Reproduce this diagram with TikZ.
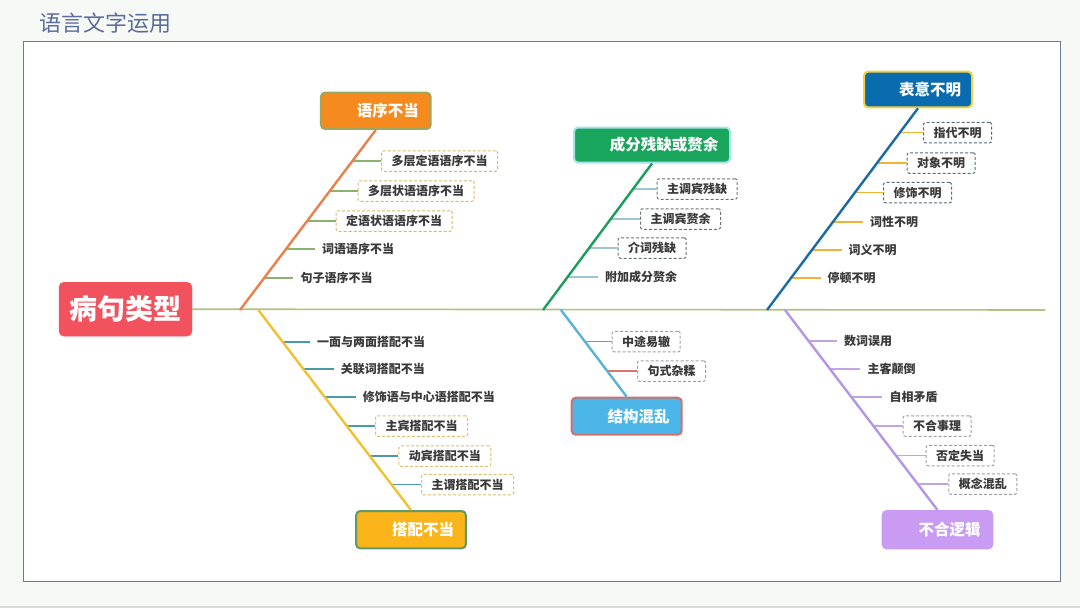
\documentclass[tikz,border=0pt]{standalone}
\usepackage{fontspec}
\setmainfont{Noto Sans CJK SC}
\usetikzlibrary{calc}
\definecolor{bgc}{HTML}{F6F9F5}
\definecolor{framec}{HTML}{6C7A90}
\definecolor{titlec}{HTML}{5B6B9B}
\definecolor{itemtext}{HTML}{3A3A3A}
\definecolor{spinec}{HTML}{B2C084}
\definecolor{rootc}{HTML}{F2525E}
% branch 1
\definecolor{b1c}{HTML}{E8814C}
\definecolor{c1fill}{HTML}{F58A1F}
\definecolor{c1bord}{HTML}{9AA860}
\definecolor{t1c}{HTML}{8CB270}
\definecolor{d1c}{HTML}{D9B86A}
% branch 2
\definecolor{b2c}{HTML}{F0C232}
\definecolor{c2fill}{HTML}{FBB419}
\definecolor{c2bord}{HTML}{5E9A6A}
\definecolor{t2c}{HTML}{4A9AAA}
\definecolor{d2c}{HTML}{DDC070}
% branch 3
\definecolor{b3c}{HTML}{1A9E5A}
\definecolor{c3fill}{HTML}{1AA55C}
\definecolor{c3bord}{HTML}{A6E2EA}
\definecolor{t3c}{HTML}{A0C4D2}
\definecolor{d3c}{HTML}{6A7272}
% branch 4
\definecolor{b4c}{HTML}{5AB2D4}
\definecolor{c4fill}{HTML}{4DB6E9}
\definecolor{c4bord}{HTML}{D2706E}
\definecolor{t4c}{HTML}{E07272}
\definecolor{d4c}{HTML}{9AA0A8}
% branch 5
\definecolor{b5c}{HTML}{1A6AA8}
\definecolor{c5fill}{HTML}{0B6BAF}
\definecolor{c5bord}{HTML}{F4D03F}
\definecolor{t5c}{HTML}{F2B233}
\definecolor{d5c}{HTML}{5A6A7A}
% branch 6
\definecolor{b6c}{HTML}{B496E4}
\definecolor{c6fill}{HTML}{C99BF2}
\definecolor{t6c}{HTML}{C2A4E2}
\definecolor{d6c}{HTML}{A0A0A0}
\tikzset{
  catbox/.style={draw, line width=2pt, rounded corners=4pt, minimum height=36pt,
    inner xsep=0pt, text=white, font=\fontsize{15.5}{17}\selectfont\bfseries},
  dbox/.style={draw, dash pattern=on 3pt off 2pt, line width=1pt, fill=white,
    rounded corners=2pt, minimum height=20.5pt, inner xsep=10pt, inner ysep=2pt,
    anchor=west, font=\fontsize{12}{13}\selectfont\bfseries, text=itemtext},
  ptext/.style={inner xsep=7pt, inner ysep=2pt, anchor=west,
    font=\fontsize{12}{13}\selectfont\bfseries, text=itemtext},
  branch/.style={line width=2.4pt},
  tickline/.style={line width=1.3pt},
}
\begin{document}
\begin{tikzpicture}[x=1pt,y=-1pt]
\useasboundingbox (0,0) rectangle (1080,608);
\fill[bgc] (0,0) rectangle (1080,608);
\draw[line width=2pt, draw={rgb,255:red,216;green,218;blue,216}] (0,607) -- (1080,607);
\draw[framec, line width=1pt, fill=white] (23,41) rectangle (1060,581);
\node[anchor=west, text=titlec, font=\fontsize{22}{24}\selectfont, inner sep=0pt] (title) at (39,23) {语言文字运用};

% root and spine
\node[fill=rootc, draw=rootc, rounded corners=5pt, minimum width=133pt, minimum height=54pt,
  text=white, font=\fontsize{28}{30}\selectfont\bfseries, inner sep=0pt] (root) at (125.5,309.2) {病句类型};
\coordinate (spineend) at (1045,310);
\draw[spinec, line width=1.6pt] (root.east) -- (spineend);

% category nodes
\node[catbox, fill=c1fill, draw=c1bord, minimum width=109.7pt, minimum height=36.3pt] (c1) at (375.8,110.8) {\hspace*{24pt}语序不当};
\node[catbox, fill=c2fill, draw=c2bord, minimum width=109.7pt, minimum height=37.3pt] (c2) at (411,529.7) {\hspace*{24pt}搭配不当};
\node[catbox, fill=c3fill, draw=c3bord, minimum width=156pt, minimum height=35pt] (c3) at (652,145) {\hspace*{24pt}成分残缺或赘余};
\node[catbox, fill=c4fill, draw=c4bord, minimum width=110pt, minimum height=37pt] (c4) at (626.7,416.2) {\hspace*{24pt}结构混乱};
\node[catbox, fill=c5fill, draw=c5bord, minimum width=108pt, minimum height=35.6pt] (c5) at (918,89.5) {\hspace*{24pt}表意不明};
\node[catbox, fill=c6fill, draw=c6fill, minimum width=109.6pt, minimum height=37.3pt] (c6) at (937.5,529.7) {\hspace*{24pt}不合逻辑};

% branch start points on the spine
\coordinate (s1) at (240,310);
\coordinate (s2) at (258.3,310);
\coordinate (s3) at (543,310);
\coordinate (s4) at (561,310);
\coordinate (s5) at (767,310);
\coordinate (s6) at (785,310);

% ---------- branch 1 ----------
\node[dbox, draw=d1c] (i1a) at (381,161) {多层定语语序不当};
\node[dbox, draw=d1c] (i1b) at (357.7,191) {多层状语语序不当};
\node[dbox, draw=d1c] (i1c) at (335.7,221) {定语状语语序不当};
\node[ptext] (i1d) at (315,249) {词语语序不当};
\node[ptext] (i1e) at (293.3,278) {句子语序不当};
\coordinate (t1a) at (352.2,161);
\coordinate (t1b) at (329.6,191);
\coordinate (t1c) at (307.0,221);
\coordinate (t1d) at (285.9,249);
\coordinate (t1e) at (264.1,278);
\foreach \k in {a,b,c,d,e} \draw[t1c, tickline] (t1\k) -- (i1\k.west);
\draw[b1c, branch] (s1) -- (c1.south);

% ---------- branch 2 ----------
\node[ptext] (i2a) at (310,342) {一面与两面搭配不当};
\node[ptext] (i2b) at (333.7,369) {关联词搭配不当};
\node[ptext] (i2c) at (355.7,397) {修饰语与中心语搭配不当};
\node[dbox, draw=d2c] (i2d) at (375,426) {主宾搭配不当};
\node[dbox, draw=d2c] (i2e) at (398.3,456) {动宾搭配不当};
\node[dbox, draw=d2c] (i2f) at (421,484.5) {主谓搭配不当};
\coordinate (t2a) at (282.7,342);
\coordinate (t2b) at (303.2,369);
\coordinate (t2c) at (324.5,397);
\coordinate (t2d) at (346.6,426);
\coordinate (t2e) at (369.4,456);
\coordinate (t2f) at (390.7,484.5);
\foreach \k in {a,b,c,d,e,f} \draw[t2c, tickline] (t2\k) -- (i2\k.west);
\draw[b2c, branch] (s2) -- (c2.north);

% ---------- branch 3 ----------
\node[dbox, draw=d3c] (i3a) at (656.7,189) {主调宾残缺};
\node[dbox, draw=d3c] (i3b) at (640,219) {主调宾赘余};
\node[dbox, draw=d3c] (i3c) at (617.7,248) {介词残缺};
\node[ptext] (i3d) at (598,277) {附加成分赘余};
\coordinate (t3a) at (632.9,189);
\coordinate (t3b) at (610.6,219);
\coordinate (t3c) at (589.1,248);
\coordinate (t3d) at (567.5,277);
\foreach \k in {a,b,c,d} \draw[t3c, tickline] (t3\k) -- (i3\k.west);
\draw[b3c, branch] (s3) -- (c3.south);

% ---------- branch 4 ----------
\node[dbox, draw=d4c] (i4a) at (611.7,341.7) {中途易辙};
\node[dbox, draw=d4c] (i4b) at (637,371) {句式杂糅};
\coordinate (t4a) at (585.3,341.7);
\coordinate (t4b) at (607.2,371);
\foreach \k in {a,b} \draw[t4c, tickline] (t4\k) -- (i4\k.west);
\draw[b4c, branch] (s4) -- (c4.north);

% ---------- branch 5 ----------
\node[dbox, draw=d5c] (i5a) at (923,132.7) {指代不明};
\node[dbox, draw=d5c] (i5b) at (906.7,163) {对象不明};
\node[dbox, draw=d5c] (i5c) at (883,192.7) {修饰不明};
\node[ptext] (i5d) at (863,222) {词性不明};
\node[ptext] (i5e) at (841.5,250) {词义不明};
\node[ptext] (i5f) at (820.5,278) {停顿不明};
\coordinate (t5a) at (899.5,132.7);
\coordinate (t5b) at (877.1,163);
\coordinate (t5c) at (854.6,192.7);
\coordinate (t5d) at (832.9,222);
\coordinate (t5e) at (811.9,250);
\coordinate (t5f) at (791,278);
\foreach \k in {a,b,c,d,e,f} \draw[t5c, tickline] (t5\k) -- (i5\k.west);
\draw[b5c, branch] (s5) -- (c5.south);

% ---------- branch 6 ----------
\node[ptext] (i6a) at (837,341) {数词误用};
\node[ptext] (i6b) at (860.3,369) {主客颠倒};
\node[ptext] (i6c) at (882.3,397) {自相矛盾};
\node[dbox, draw=d6c] (i6d) at (902.7,426) {不合事理};
\node[dbox, draw=d6c] (i6e) at (925.7,455.5) {否定失当};
\node[dbox, draw=d6c] (i6f) at (948.3,484) {概念混乱};
\coordinate (t6a) at (808.6,341);
\coordinate (t6b) at (830,369);
\coordinate (t6c) at (851.3,397);
\coordinate (t6d) at (873.5,426);
\coordinate (t6e) at (896,455.5);
\coordinate (t6f) at (917.7,484);
\foreach \k in {a,b,c,d,e,f} \draw[t6c, tickline] (t6\k) -- (i6\k.west);
\draw[b6c, branch] (s6) -- (c6.north);
\end{tikzpicture}
\end{document}
